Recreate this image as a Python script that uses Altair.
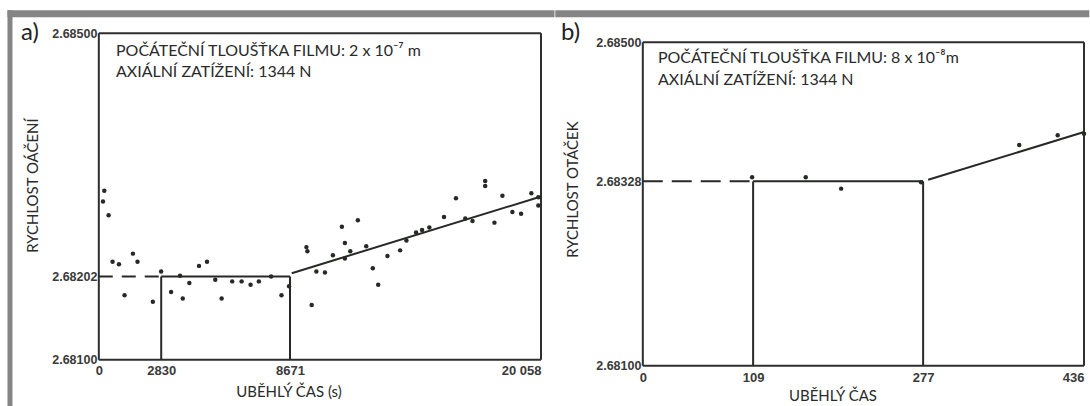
import altair as alt
import pandas as pd

# ---------------- panel a data ----------------
A_TIME = [249, 190, 443, 624, 914, 1547, 1755, 1167, 2451, 2827, 3279, 3686, 3808, 4107,
          4545, 4907, 5282, 5572, 6051, 6477, 6884, 7259, 7815, 8286, 8629, 9416, 9461,
          9656, 9868, 10257, 10619, 11026, 11162, 11162, 11406, 11750, 12130, 12428,
          12673, 13093, 13668, 13953, 14391, 14663, 14993, 15658, 16200, 16621, 16951,
          17526, 17526, 17946, 18308, 18760, 19154, 19620, 19936, 19936]
A_RATE = [2.68307, 2.68294, 2.68277, 2.68220, 2.68217, 2.68230, 2.68220, 2.68179, 2.68171,
          2.68208, 2.68183, 2.68203, 2.68175, 2.68194, 2.68215, 2.68220, 2.68198, 2.68175,
          2.68196, 2.68196, 2.68192, 2.68196, 2.68202, 2.68179, 2.68190, 2.68238, 2.68233,
          2.68167, 2.68208, 2.68207, 2.68228, 2.68263, 2.68243, 2.68224, 2.68233, 2.68271,
          2.68239, 2.68212, 2.68192, 2.68227, 2.68234, 2.68246, 2.68256, 2.68259, 2.68262,
          2.68275, 2.68298, 2.68273, 2.68270, 2.68319, 2.68313, 2.68268, 2.68301, 2.68281,
          2.68279, 2.68304, 2.68299, 2.68289]
A_X_TICKS = [0, 2830, 8671, 20058]
A_Y_TICKS = [2.681, 2.68202, 2.685]
A_LEVEL = 2.68202
A_SLOPE_T = [8750, 20058]
A_SLOPE_V = [2.68206, 2.68300]
A_NOTES = ["POČÁTEČNÍ TLOUŠŤKA FILMU: 2 x 10⁻⁷ m", "AXIÁLNÍ ZATÍŽENÍ: 1344 N"]
A_NOTE_T = [780, 780]
A_NOTE_V = [2.68478, 2.68453]

# ---------------- panel b data ----------------
B_TIME = [108, 161, 196, 275, 372, 410, 436]
B_RATE = [2.68333, 2.68333, 2.68319, 2.68327, 2.68373, 2.68385, 2.68387]
B_X_TICKS = [0, 109, 277, 436]
B_Y_TICKS = [2.681, 2.68328, 2.685]
B_LEVEL = 2.68328
B_SLOPE_T = [282, 436]
B_SLOPE_V = [2.68330, 2.68389]
B_NOTES = ["POČÁTEČNÍ TLOUŠŤKA FILMU: 8 x 10⁻⁸m", "AXIÁLNÍ ZATÍŽENÍ: 1344 N"]
B_NOTE_T = [15, 15]
B_NOTE_V = [2.68480, 2.68453]

INK = "#262926"
GRAY = "#858585"
H = 333
LABEL_FONT = "Liberation Sans"
TEXT_FONT = "Lato"


def segs(rows):
    return pd.DataFrame(rows, columns=["x", "y", "x2", "y2"])


def panel(times, rates, xt, yt, level, slope_t, slope_v, notes, note_t, note_v,
          letter, letter_x, ytitle, xtitle, ydom, width, dash, xlabel_pad, xtitle_y,
          ytitle_x, ytitle_y, band_x, band_x2, left_band):
    x0, xa, xb, xmax = xt
    ymin, _, ymax = yt
    xs = alt.Scale(domain=[0, xmax], nice=False, zero=False)
    ys = alt.Scale(domain=ydom, nice=False, zero=False)
    xaxis = alt.Axis(
        values=xt, title=xtitle, grid=False, domain=False, ticks=False,
        labelOverlap=False,
        labelExpr="datum.value == 20058 ? '20 058' : format(datum.value, 'd')",
        labelAlign=alt.ExprRef(expr=f"datum.value == {xmax} ? 'right' : 'center'"),
        labelPadding=xlabel_pad, labelFont=LABEL_FONT, labelFontSize=13,
        labelFontWeight="bold", labelColor="#3a3a3a",
        titleFont=TEXT_FONT, titleFontSize=15, titleFontWeight="normal",
        titleColor="#2a2a2a", titleX=190, titleY=xtitle_y, titleBaseline="middle",
        titleAlign="center")
    yaxis = alt.Axis(
        values=yt, title=ytitle, grid=False, domain=False, ticks=False,
        labelOverlap=False, labelExpr="format(datum.value, '.5f')",
        labelPadding=2, labelFont=LABEL_FONT, labelFontSize=12.5,
        labelFontWeight="bold", labelColor="#3a3a3a",
        titleFont=TEXT_FONT, titleFontSize=15, titleFontWeight="normal",
        titleColor="#2a2a2a", titleAngle=270, titleX=ytitle_x, titleY=ytitle_y,
        titleBaseline="middle", titleAlign="center")
    X = alt.X("x:Q", scale=xs, axis=xaxis)
    Y = alt.Y("y:Q", scale=ys, axis=yaxis)

    frame = segs([(0, ymax, xmax, ymax), (0, ymin, xmax, ymin),
                  (0, ymin, 0, ymax), (xmax, ymin, xmax, ymax)])
    solid = segs([(xa, level, xb, level), (xa, ymin, xa, level),
                  (xb, ymin, xb, level),
                  (slope_t[0], slope_v[0], slope_t[1], slope_v[1])])
    dashed = segs([(0, level, xa, level)])

    l_frame = alt.Chart(frame).mark_rule(strokeWidth=2, color="#2e2e2e").encode(
        x=X, y=Y, x2="x2:Q", y2="y2:Q")
    l_solid = alt.Chart(solid).mark_rule(color=INK, strokeWidth=2).encode(
        x=X, y=Y, x2="x2:Q", y2="y2:Q")
    l_dash = alt.Chart(dashed).mark_rule(color=INK, strokeWidth=2, strokeDash=dash).encode(
        x=X, y=Y, x2="x2:Q", y2="y2:Q")
    pts = alt.Chart(pd.DataFrame({"x": times, "y": rates})).mark_point(
        filled=True, size=20, color=INK, opacity=1).encode(x=X, y=Y)
    notes_l = alt.Chart(pd.DataFrame({"x": note_t, "y": note_v, "s": notes})).mark_text(
        align="left", baseline="middle", font=TEXT_FONT, fontSize=16,
        color="#2a2a2a").encode(x=X, y=Y, text="s:N")
    one = pd.DataFrame({"k": [0]})
    letter_l = alt.Chart(one).mark_text(
        text=letter, align="left", baseline="middle", font=TEXT_FONT,
        fontSize=24, color="#222222").encode(x=alt.value(letter_x), y=alt.value(0))
    band_top = alt.Chart(one).mark_rect(color=GRAY).encode(
        x=alt.value(band_x), x2=alt.value(band_x2), y=alt.value(-23), y2=alt.value(-16))
    layers = [band_top, l_frame, l_dash, l_solid, pts, notes_l, letter_l]
    if left_band:
        layers.insert(1, alt.Chart(one).mark_rect(color=GRAY).encode(
            x=alt.value(band_x), x2=alt.value(band_x + 5), y=alt.value(-23),
            y2=alt.value(380)))
    return alt.layer(*layers).properties(width=width, height=H)


ka = 0.004 / 327
kb = 0.004 / 324
a = panel(A_TIME, A_RATE, A_X_TICKS, A_Y_TICKS, A_LEVEL, A_SLOPE_T, A_SLOPE_V,
          A_NOTES, A_NOTE_T, A_NOTE_V, "a)", -78, "RYCHLOST OÁČENÍ",
          "UBĚHLÝ ČAS (s)", [2.685 - H * ka, 2.685], 443, [14, 9],
          xlabel_pad=-1, xtitle_y=26, ytitle_x=-66, ytitle_y=152,
          band_x=-91.5, band_x2=456.5, left_band=True)
b = panel(B_TIME, B_RATE, B_X_TICKS, B_Y_TICKS, B_LEVEL, B_SLOPE_T, B_SLOPE_V,
          B_NOTES, B_NOTE_T, B_NOTE_V, "b)", -82, "RYCHLOST OTÁČEK",
          "UBĚHLÝ ČAS", [2.685 + 9 * kb - H * kb, 2.685 + 9 * kb], 442, [20, 9],
          xlabel_pad=6, xtitle_y=30, ytitle_x=-70, ytitle_y=156,
          band_x=-87.7, band_x2=447.3, left_band=False)

chart = alt.hconcat(a, b, spacing=0).properties(
    padding={"left": 7, "top": 10, "right": 0, "bottom": 0},
    background="white",
).configure_view(strokeWidth=0)

chart.save("out.html", embed_options={"renderer": "svg", "actions": False})
